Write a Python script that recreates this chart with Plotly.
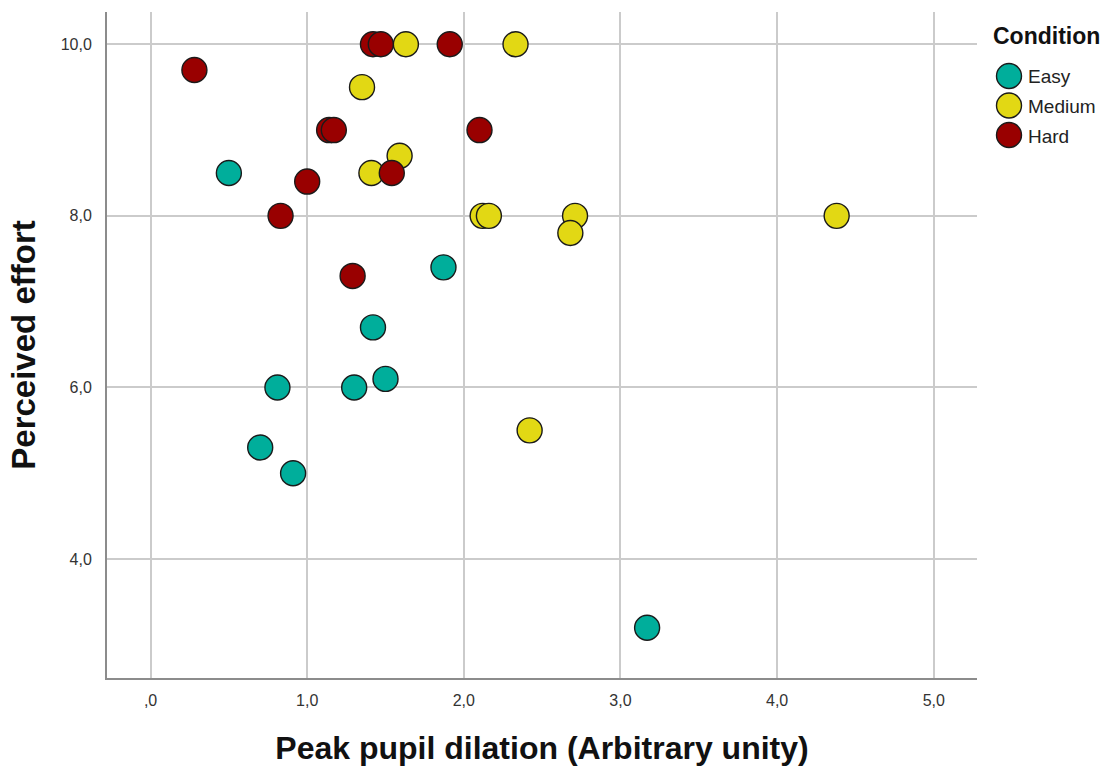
import plotly.graph_objects as go

# Peak pupil dilation (x) vs perceived effort (y), one list pair per condition
easy_dilation = [0.50, 1.87, 1.42, 0.81, 1.30, 1.50, 0.70, 0.91, 3.17]
easy_effort = [8.5, 7.4, 6.7, 6.0, 6.0, 6.1, 5.3, 5.0, 3.2]

medium_dilation = [1.63, 2.33, 1.35, 1.59, 1.41, 2.12, 2.16, 2.71, 2.68, 4.38, 2.42]
medium_effort = [10.0, 10.0, 9.5, 8.7, 8.5, 8.0, 8.0, 8.0, 7.8, 8.0, 5.5]

hard_dilation = [0.28, 1.42, 1.47, 1.91, 1.14, 1.17, 2.10, 1.00, 0.83, 1.54, 1.29]
hard_effort = [9.7, 10.0, 10.0, 10.0, 9.0, 9.0, 9.0, 8.4, 8.0, 8.5, 7.3]

conditions = ["Easy", "Medium", "Hard"]
colors = ["#00AE9B", "#E2D814", "#990000"]

x_ticks = [0, 1, 2, 3, 4, 5]
x_ticklabels = [",0", "1,0", "2,0", "3,0", "4,0", "5,0"]
y_ticks = [4, 6, 8, 10]
y_ticklabels = ["4,0", "6,0", "8,0", "10,0"]

FONT = "Liberation Sans, Arial, sans-serif"
W, H = 1110, 767
M_L, M_R, M_T, M_B = 107, 133, 12, 89
PW, PH = W - M_L - M_R, H - M_T - M_B

series = [
    (easy_dilation, easy_effort),
    (medium_dilation, medium_effort),
    (hard_dilation, hard_effort),
]

fig = go.Figure()
for name, color, (xs, ys) in zip(conditions, colors, series):
    fig.add_trace(go.Scatter(
        x=xs, y=ys, mode="markers", name=name, showlegend=False,
        marker=dict(size=25, color=color, line=dict(color="#1a1a1a", width=1.4)),
    ))

axis_common = dict(
    showgrid=True, gridcolor="#CBCBCB", gridwidth=1.6,
    zeroline=False, showline=True, linecolor="#8C8C8C", linewidth=2,
    tickfont=dict(family=FONT, size=16, color="#333333"),
    ticks="", mirror=False,
)

fig.update_xaxes(
    range=[-0.278, 5.276], tickmode="array", tickvals=x_ticks, ticktext=x_ticklabels,
    ticklabelstandoff=7,
    title=dict(text="<b>Peak pupil dilation (Arbitrary unity)</b>",
               font=dict(family=FONT, size=32, color="#111111"), standoff=28),
    **axis_common,
)
fig.update_yaxes(
    range=[2.614, 10.376], tickmode="array", tickvals=y_ticks, ticktext=y_ticklabels,
    ticklabelstandoff=10,
    title=dict(text="<b>Perceived effort</b>",
               font=dict(family=FONT, size=33, color="#111111"), standoff=15),
    **axis_common,
)


def px_to_paper(px, py):
    return (px - M_L) / PW, (H - M_B - py) / PH


# Legend drawn with circles and text so the swatches match the marker size
shapes = []
annotations = []
tx, ty = px_to_paper(991, 36)
annotations.append(dict(
    x=tx, y=ty, xref="paper", yref="paper", xanchor="left", yanchor="middle",
    text="<b>Condition</b>", showarrow=False,
    font=dict(family=FONT, size=23, color="#111111"),
))
for i, (name, color) in enumerate(zip(conditions, colors)):
    cy = 76 + i * 29.5
    cx_p, cy_p = px_to_paper(1009, cy)
    shapes.append(dict(
        type="circle", xref="paper", yref="paper", xsizemode="pixel", ysizemode="pixel",
        xanchor=cx_p, yanchor=cy_p, x0=-12.5, x1=12.5, y0=-12.5, y1=12.5,
        fillcolor=color, line=dict(color="#1a1a1a", width=1.4),
    ))
    lx, ly = px_to_paper(1026, cy + 1)
    annotations.append(dict(
        x=lx, y=ly, xref="paper", yref="paper", xanchor="left", yanchor="middle",
        text=name, showarrow=False,
        font=dict(family=FONT, size=19, color="#222222"),
    ))

fig.update_layout(
    width=W, height=H,
    margin=dict(l=M_L, r=M_R, t=M_T, b=M_B, autoexpand=False),
    paper_bgcolor="white", plot_bgcolor="white",
    shapes=shapes, annotations=annotations,
    showlegend=False,
)

fig.write_html("out.html")
